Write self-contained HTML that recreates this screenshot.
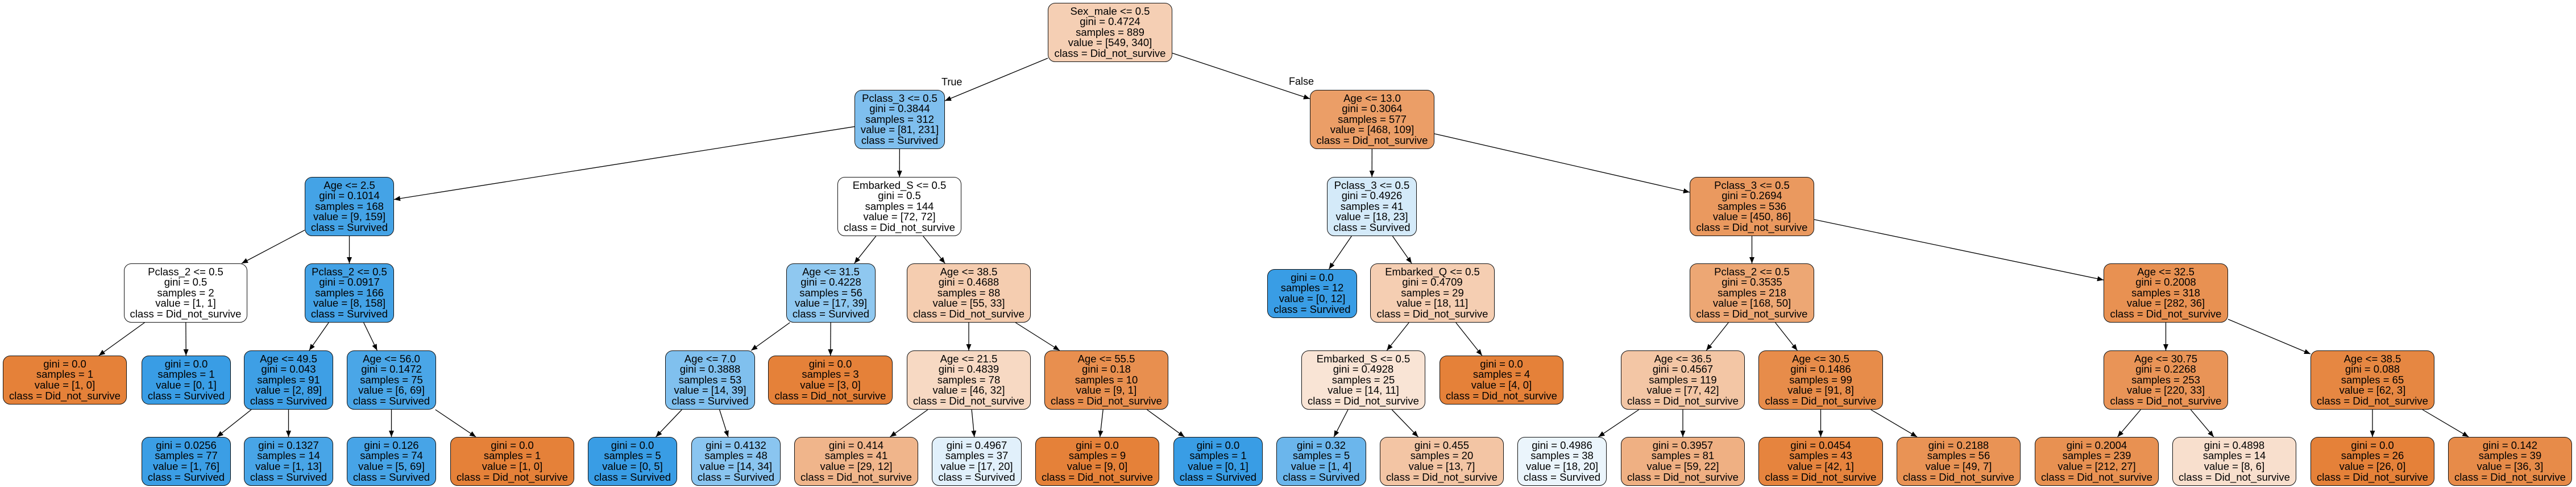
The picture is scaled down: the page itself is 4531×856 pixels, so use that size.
<!DOCTYPE html>
<html><head><meta charset="utf-8"><style>
html,body{margin:0;padding:0;background:#fff;}
body{width:4531px;height:856px;position:relative;overflow:hidden;font-family:"Liberation Sans",Arial,sans-serif;}
.n{position:absolute;box-sizing:border-box;border:1.3px solid #111;border-radius:13px;display:flex;flex-direction:column;justify-content:center;align-items:center;text-align:center;font-size:18.5px;line-height:18.6px;color:#000;white-space:nowrap;}
.lb{position:absolute;font-size:18px;color:#000;}
svg{position:absolute;left:0;top:0;}
</style></head><body>
<svg id="s" width="4531" height="856"><defs><marker id="a" markerWidth="12" markerHeight="10" refX="11" refY="4.5" orient="auto" markerUnits="userSpaceOnUse"><path d="M0,0 L11,4.5 L0,9 Z" fill="#000"/></marker></defs></svg>

<div class="n" id="n0" style="left:1843px;top:5px;width:219px;height:104px;background:rgb(245,207,180)">Sex_male &lt;= 0.5<br>gini = 0.4724<br>samples = 889<br>value = [549, 340]<br>class = Did_not_survive</div>

<div class="n" id="n1" style="left:1503px;top:158px;width:159px;height:104px;background:rgb(127,191,238)">Pclass_3 &lt;= 0.5<br>gini = 0.3844<br>samples = 312<br>value = [81, 231]<br>class = Survived</div>
<div class="n" id="n2" style="left:2304px;top:158px;width:219px;height:104px;background:rgb(235,158,103)">Age &lt;= 13.0<br>gini = 0.3064<br>samples = 577<br>value = [468, 109]<br>class = Did_not_survive</div>

<div class="n" id="n3" style="left:536px;top:311px;width:157px;height:104px;background:rgb(68,163,230)">Age &lt;= 2.5<br>gini = 0.1014<br>samples = 168<br>value = [9, 159]<br>class = Survived</div>
<div class="n" id="n4" style="left:1473px;top:311px;width:218px;height:104px;background:#fff">Embarked_S &lt;= 0.5<br>gini = 0.5<br>samples = 144<br>value = [72, 72]<br>class = Did_not_survive</div>
<div class="n" id="n5" style="left:2334px;top:311px;width:158px;height:104px;background:rgb(212,234,249)">Pclass_3 &lt;= 0.5<br>gini = 0.4926<br>samples = 41<br>value = [18, 23]<br>class = Survived</div>
<div class="n" id="n6" style="left:2972px;top:311px;width:219px;height:104px;background:rgb(234,153,95)">Pclass_3 &lt;= 0.5<br>gini = 0.2694<br>samples = 536<br>value = [450, 86]<br>class = Did_not_survive</div>

<div class="n" id="n7" style="left:218px;top:463px;width:217px;height:104px;background:#fff">Pclass_2 &lt;= 0.5<br>gini = 0.5<br>samples = 2<br>value = [1, 1]<br>class = Did_not_survive</div>
<div class="n" id="n8" style="left:536px;top:463px;width:157px;height:104px;background:rgb(67,162,230)">Pclass_2 &lt;= 0.5<br>gini = 0.0917<br>samples = 166<br>value = [8, 158]<br>class = Survived</div>
<div class="n" id="n9" style="left:1383px;top:463px;width:157px;height:104px;background:rgb(143,200,240)">Age &lt;= 31.5<br>gini = 0.4228<br>samples = 56<br>value = [17, 39]<br>class = Survived</div>
<div class="n" id="n10" style="left:1595px;top:463px;width:218px;height:104px;background:rgb(245,205,176)">Age &lt;= 38.5<br>gini = 0.4688<br>samples = 88<br>value = [55, 33]<br>class = Did_not_survive</div>
<div class="n" id="n11" style="left:2229px;top:473px;width:158px;height:86px;background:rgb(57,157,229)">gini = 0.0<br>samples = 12<br>value = [0, 12]<br>class = Survived</div>
<div class="n" id="n12" style="left:2410px;top:463px;width:219px;height:104px;background:rgb(245,206,178)">Embarked_Q &lt;= 0.5<br>gini = 0.4709<br>samples = 29<br>value = [18, 11]<br>class = Did_not_survive</div>
<div class="n" id="n13" style="left:2972px;top:463px;width:219px;height:104px;background:rgb(237,167,116)">Pclass_2 &lt;= 0.5<br>gini = 0.3535<br>samples = 218<br>value = [168, 50]<br>class = Did_not_survive</div>
<div class="n" id="n14" style="left:3700px;top:463px;width:219px;height:104px;background:rgb(232,145,82)">Age &lt;= 32.5<br>gini = 0.2008<br>samples = 318<br>value = [282, 36]<br>class = Did_not_survive</div>

<div class="n" id="n15" style="left:5px;top:625px;width:218px;height:86px;background:rgb(229,129,57)">gini = 0.0<br>samples = 1<br>value = [1, 0]<br>class = Did_not_survive</div>
<div class="n" id="n16" style="left:249px;top:625px;width:157px;height:86px;background:rgb(57,157,229)">gini = 0.0<br>samples = 1<br>value = [0, 1]<br>class = Survived</div>
<div class="n" id="n17" style="left:429px;top:616px;width:157px;height:104px;background:rgb(62,159,229)">Age &lt;= 49.5<br>gini = 0.043<br>samples = 91<br>value = [2, 89]<br>class = Survived</div>
<div class="n" id="n18" style="left:610px;top:616px;width:157px;height:104px;background:rgb(74,166,231)">Age &lt;= 56.0<br>gini = 0.1472<br>samples = 75<br>value = [6, 69]<br>class = Survived</div>
<div class="n" id="n19" style="left:1170px;top:616px;width:158px;height:104px;background:rgb(128,192,238)">Age &lt;= 7.0<br>gini = 0.3888<br>samples = 53<br>value = [14, 39]<br>class = Survived</div>
<div class="n" id="n20" style="left:1351px;top:625px;width:219px;height:86px;background:rgb(229,129,57)">gini = 0.0<br>samples = 3<br>value = [3, 0]<br>class = Did_not_survive</div>
<div class="n" id="n21" style="left:1595px;top:616px;width:218px;height:104px;background:rgb(247,217,195)">Age &lt;= 21.5<br>gini = 0.4839<br>samples = 78<br>value = [46, 32]<br>class = Did_not_survive</div>
<div class="n" id="n22" style="left:1837px;top:616px;width:218px;height:104px;background:rgb(232,143,79)">Age &lt;= 55.5<br>gini = 0.18<br>samples = 10<br>value = [9, 1]<br>class = Did_not_survive</div>
<div class="n" id="n23" style="left:2289px;top:616px;width:218px;height:104px;background:rgb(249,228,213)">Embarked_S &lt;= 0.5<br>gini = 0.4928<br>samples = 25<br>value = [14, 11]<br>class = Did_not_survive</div>
<div class="n" id="n24" style="left:2532px;top:625px;width:218px;height:86px;background:rgb(229,129,57)">gini = 0.0<br>samples = 4<br>value = [4, 0]<br>class = Did_not_survive</div>
<div class="n" id="n25" style="left:2851px;top:616px;width:218px;height:104px;background:rgb(243,198,165)">Age &lt;= 36.5<br>gini = 0.4567<br>samples = 119<br>value = [77, 42]<br>class = Did_not_survive</div>
<div class="n" id="n26" style="left:3093px;top:616px;width:219px;height:104px;background:rgb(231,140,74)">Age &lt;= 30.5<br>gini = 0.1486<br>samples = 99<br>value = [91, 8]<br>class = Did_not_survive</div>
<div class="n" id="n27" style="left:3700px;top:616px;width:219px;height:104px;background:rgb(233,148,87)">Age &lt;= 30.75<br>gini = 0.2268<br>samples = 253<br>value = [220, 33]<br>class = Did_not_survive</div>
<div class="n" id="n28" style="left:4064px;top:616px;width:218px;height:104px;background:rgb(230,135,66)">Age &lt;= 38.5<br>gini = 0.088<br>samples = 65<br>value = [62, 3]<br>class = Did_not_survive</div>

<div class="n" id="n29" style="left:249px;top:768px;width:157px;height:86px;background:rgb(59,158,229)">gini = 0.0256<br>samples = 77<br>value = [1, 76]<br>class = Survived</div>
<div class="n" id="n30" style="left:429px;top:768px;width:157px;height:86px;background:rgb(72,165,231)">gini = 0.1327<br>samples = 14<br>value = [1, 13]<br>class = Survived</div>
<div class="n" id="n31" style="left:610px;top:768px;width:157px;height:86px;background:rgb(71,164,231)">gini = 0.126<br>samples = 74<br>value = [5, 69]<br>class = Survived</div>
<div class="n" id="n32" style="left:792px;top:768px;width:218px;height:86px;background:rgb(229,129,57)">gini = 0.0<br>samples = 1<br>value = [1, 0]<br>class = Did_not_survive</div>
<div class="n" id="n33" style="left:1034px;top:768px;width:157px;height:86px;background:rgb(57,157,229)">gini = 0.0<br>samples = 5<br>value = [0, 5]<br>class = Survived</div>
<div class="n" id="n34" style="left:1216px;top:768px;width:157px;height:86px;background:rgb(138,197,240)">gini = 0.4132<br>samples = 48<br>value = [14, 34]<br>class = Survived</div>
<div class="n" id="n35" style="left:1397px;top:768px;width:218px;height:86px;background:rgb(240,181,139)">gini = 0.414<br>samples = 41<br>value = [29, 12]<br>class = Did_not_survive</div>
<div class="n" id="n36" style="left:1639px;top:768px;width:158px;height:86px;background:rgb(225,240,251)">gini = 0.4967<br>samples = 37<br>value = [17, 20]<br>class = Survived</div>
<div class="n" id="n37" style="left:1821px;top:768px;width:218px;height:86px;background:rgb(229,129,57)">gini = 0.0<br>samples = 9<br>value = [9, 0]<br>class = Did_not_survive</div>
<div class="n" id="n38" style="left:2064px;top:768px;width:157px;height:86px;background:rgb(57,157,229)">gini = 0.0<br>samples = 1<br>value = [0, 1]<br>class = Survived</div>
<div class="n" id="n39" style="left:2245px;top:768px;width:158px;height:86px;background:rgb(107,182,236)">gini = 0.32<br>samples = 5<br>value = [1, 4]<br>class = Survived</div>
<div class="n" id="n40" style="left:2427px;top:768px;width:218px;height:86px;background:rgb(243,197,164)">gini = 0.455<br>samples = 20<br>value = [13, 7]<br>class = Did_not_survive</div>
<div class="n" id="n41" style="left:2669px;top:768px;width:157px;height:86px;background:rgb(235,245,252)">gini = 0.4986<br>samples = 38<br>value = [18, 20]<br>class = Survived</div>
<div class="n" id="n42" style="left:2851px;top:768px;width:218px;height:86px;background:rgb(239,176,131)">gini = 0.3957<br>samples = 81<br>value = [59, 22]<br>class = Did_not_survive</div>
<div class="n" id="n43" style="left:3093px;top:768px;width:219px;height:86px;background:rgb(230,132,62)">gini = 0.0454<br>samples = 43<br>value = [42, 1]<br>class = Did_not_survive</div>
<div class="n" id="n44" style="left:3336px;top:768px;width:218px;height:86px;background:rgb(233,147,85)">gini = 0.2188<br>samples = 56<br>value = [49, 7]<br>class = Did_not_survive</div>
<div class="n" id="n45" style="left:3579px;top:768px;width:218px;height:86px;background:rgb(232,145,82)">gini = 0.2004<br>samples = 239<br>value = [212, 27]<br>class = Did_not_survive</div>
<div class="n" id="n46" style="left:3821px;top:768px;width:218px;height:86px;background:rgb(248,223,205)">gini = 0.4898<br>samples = 14<br>value = [8, 6]<br>class = Did_not_survive</div>
<div class="n" id="n47" style="left:4064px;top:768px;width:218px;height:86px;background:rgb(229,129,57)">gini = 0.0<br>samples = 26<br>value = [26, 0]<br>class = Did_not_survive</div>
<div class="n" id="n48" style="left:4306px;top:768px;width:218px;height:86px;background:rgb(231,139,73)">gini = 0.142<br>samples = 39<br>value = [36, 3]<br>class = Did_not_survive</div>

<div class="lb" style="left:1656px;top:134px;">True</div>
<div class="lb" style="left:2267px;top:133px;">False</div>

<script>
var E=[[0,1],[0,2],[1,3],[1,4],[2,5],[2,6],[3,7],[3,8],[4,9],[4,10],[5,11],[5,12],[6,13],[6,14],[7,15],[7,16],[8,17],[8,18],[9,19],[9,20],[10,21],[10,22],[12,23],[12,24],[13,25],[13,26],[14,27],[14,28],[17,29],[17,30],[18,31],[18,32],[19,33],[19,34],[21,35],[21,36],[22,37],[22,38],[23,39],[23,40],[25,41],[25,42],[26,43],[26,44],[27,45],[27,46],[28,47],[28,48]];
function box(i){var e=document.getElementById('n'+i);var x=parseFloat(e.style.left),y=parseFloat(e.style.top),w=parseFloat(e.style.width),h=parseFloat(e.style.height);return {cx:x+w/2,cy:y+h/2,hw:w/2,hh:h/2};}
function clip(b,dx,dy){var t=Infinity;if(dx!==0)t=Math.min(t,b.hw/Math.abs(dx));if(dy!==0)t=Math.min(t,b.hh/Math.abs(dy));return t;}
var s=document.getElementById('s');var ns='http://www.w3.org/2000/svg';
E.forEach(function(p){var a=box(p[0]),b=box(p[1]);var dx=b.cx-a.cx,dy=b.cy-a.cy;var t1=clip(a,dx,dy),t2=clip(b,-dx,-dy);
var l=document.createElementNS(ns,'line');l.setAttribute('x1',a.cx+dx*t1);l.setAttribute('y1',a.cy+dy*t1);l.setAttribute('x2',b.cx-dx*t2);l.setAttribute('y2',b.cy-dy*t2);l.setAttribute('stroke','#000');l.setAttribute('stroke-width','1.3');l.setAttribute('marker-end','url(#a)');s.appendChild(l);});
</script>
</body></html>
